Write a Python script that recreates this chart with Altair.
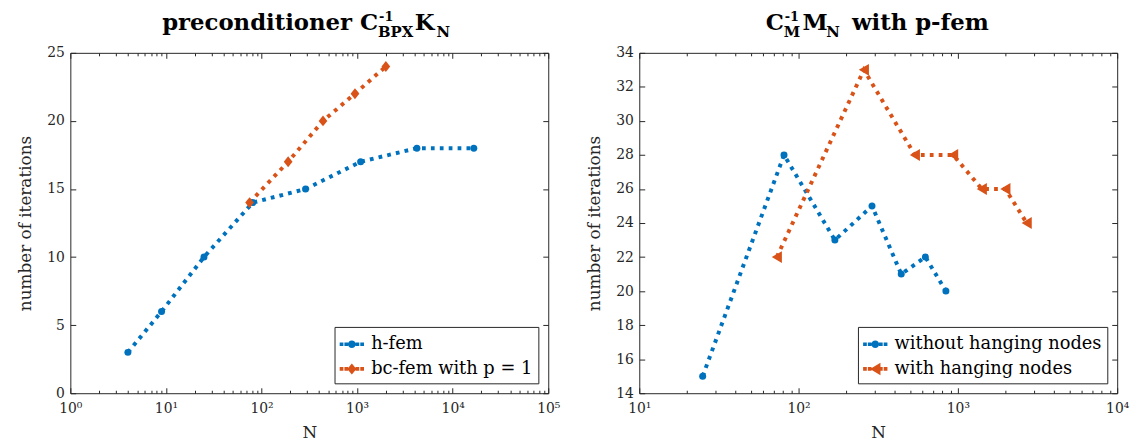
import altair as alt
import pandas as pd

# ---------------- data ----------------
left_series = ["h-fem", "bc-fem with p = 1"]
h_N = [4, 9, 25, 81, 289, 1089, 4225, 16641]
h_it = [3, 6, 10, 14, 15, 17, 18, 18]
bc_N = [75, 190, 440, 950, 2000]
bc_it = [14, 17, 20, 22, 24]

right_series = ["without hanging nodes", "with hanging nodes"]
wo_N = [25, 81, 169, 289, 441, 625, 841]
wo_it = [15, 28, 23, 25, 21, 22, 20]
wh_N = [73, 257, 537, 934, 1413, 1987, 2704]
wh_it = [22, 33, 28, 28, 26, 26, 24]

left_xmajor = [1, 10, 100, 1000, 10000, 100000]
right_xmajor = [10, 100, 1000, 10000]
left_ymajor = [0, 5, 10, 15, 20, 25]
right_ymajor = [14, 16, 18, 20, 22, 24, 26, 28, 30, 32, 34]


def minor_ticks(major):
    return [m * d for d in major[:-1] for m in range(2, 10)]


left_df = pd.DataFrame({
    "N": h_N + bc_N,
    "it": h_it + bc_it,
    "series": [left_series[0]] * len(h_N) + [left_series[1]] * len(bc_N),
})
right_df = pd.DataFrame({
    "N": wo_N + wh_N,
    "it": wo_it + wh_it,
    "series": [right_series[0]] * len(wo_N) + [right_series[1]] * len(wh_N),
})

# ---------------- style ----------------
BLUE = "#0072BD"
ORANGE = "#D95319"
AX = "#262626"
SERIF = "DejaVu Serif"
W, H = 483, 344
MAJ, MIN = 5.5, 3.0

DIAMOND = "M0,-1L0.8,0L0,1L-0.8,0Z"
TRI_LEFT = "M-0.85,0L0.85,-1L0.85,1Z"


def dots():
    s = 0.15
    out = ""
    for cx in (-0.833, -0.45, 0.45, 0.833):
        out += f"M{cx - s:.3f},{-s:.3f}L{cx + s:.3f},{-s:.3f}L{cx + s:.3f},{s:.3f}L{cx - s:.3f},{s:.3f}Z"
    return out


LEG_CIRCLE = dots() + "M0.31,0A0.31,0.31 0 1,1 -0.31,0A0.31,0.31 0 1,1 0.31,0Z"
LEG_DIAMOND = dots() + "M0,-0.45L0.37,0L0,0.45L-0.37,0Z"
LEG_TRI = dots() + "M-0.42,0L0.42,-0.5L0.42,0.5Z"

SUP = "['⁰','¹','²','³','⁴','⁵']"
LABEL_EXPR = "'10' + " + SUP + "[round(log(datum.value)/LN10)]"


def text_piece(txt, x, y, size, align="left"):
    return alt.Chart(alt.Data(values=[{}])).mark_text(
        text=txt, font=SERIF, fontSize=size, fontWeight="bold",
        align=align, baseline="alphabetic", color="black"
    ).encode(x=alt.value(x), y=alt.value(y))


def panel(df, series, shapes, sizes, leg_paths, xdom, xmaj, ydom, ymaj, titles):
    xs = alt.Scale(type="log", domain=xdom, nice=False)
    ys = alt.Scale(domain=ydom, nice=False, zero=False)
    cs = alt.Scale(domain=series, range=[BLUE, ORANGE])
    xmin = minor_ticks(xmaj)

    def X(axis):
        return alt.X("N:Q", scale=xs, axis=axis)

    def Y(axis):
        return alt.Y("it:Q", scale=ys, axis=axis)

    lab_x = alt.Axis(orient="bottom", values=xmaj, ticks=False, tickSize=0, domain=False,
                     labelExpr=LABEL_EXPR, labelFlush=False, labelOverlap=False,
                     labelPadding=8, title="N", titlePadding=10)
    lab_y = alt.Axis(orient="left", values=ymaj, ticks=False, tickSize=0, domain=False,
                     labelPadding=6, title="number of iterations", titlePadding=12)

    def tick_axis(orient, vals, size):
        return alt.Axis(orient=orient, values=vals, ticks=True, tickSize=size, offset=-size,
                        labels=False, domain=False, title=None)

    base = alt.Chart(df)
    inv = dict(opacity=0)
    layers = []
    for i, (s, c) in enumerate(zip(series, [BLUE, ORANGE])):
        layers.append(
            base.transform_filter(alt.datum.series == s).mark_line(
                color=c, strokeWidth=4, strokeDash=[3.8, 5.2], strokeCap="butt"
            ).encode(x=X(lab_x if i == 0 else None), y=Y(lab_y if i == 0 else None))
        )
    layers += [
        base.mark_point(**inv).encode(x=X(tick_axis("bottom", xmaj, MAJ)),
                                      y=Y(tick_axis("left", ymaj, MAJ))),
        base.mark_point(**inv).encode(x=X(tick_axis("top", xmaj, MAJ)),
                                      y=Y(tick_axis("right", ymaj, MAJ))),
        base.mark_point(**inv).encode(x=X(tick_axis("bottom", xmin, MIN)), y=Y(None)),
        base.mark_point(**inv).encode(x=X(tick_axis("top", xmin, MIN)), y=Y(None)),
    ]
    for s, c, shp, sz in zip(series, [BLUE, ORANGE], shapes, sizes):
        layers.append(
            base.transform_filter(alt.datum.series == s).mark_point(
                filled=True, shape=shp, size=sz, color=c, opacity=1
            ).encode(x=X(None), y=Y(None))
        )
    leg_props = dict(title=None, orient="bottom-right", offset=10, fillColor="white",
                     strokeColor=AX, padding=5, labelFont=SERIF, labelFontSize=18,
                     labelColor="black", labelLimit=0, symbolSize=625, symbolStrokeWidth=0,
                     symbolOpacity=1, rowPadding=3, labelOffset=7, cornerRadius=0)
    layers.append(
        base.mark_point(filled=True, opacity=0).encode(
            x=X(None), y=Y(None),
            color=alt.Color("series:N", scale=cs, legend=alt.Legend(**leg_props)),
            shape=alt.Shape("series:N", scale=alt.Scale(domain=series, range=leg_paths),
                            legend=alt.Legend(**leg_props)),
        )
    )
    layers += titles
    return alt.layer(*layers).resolve_axis(x="independent", y="independent").properties(
        width=W, height=H)


BASE_Y, SUP_Y, SUB_Y = -23, -32, -16
left_titles = [
    text_piece("preconditioner C", 311, BASE_Y, 23, "right"),
    text_piece("-1", 312, SUP_Y, 13),
    text_piece("BPX", 311, SUB_Y, 15),
    text_piece("K", 348, BASE_Y, 23),
    text_piece("N", 370, SUB_Y, 15),
]
right_titles = [
    text_piece("C", 146, BASE_Y, 23, "right"),
    text_piece("-1", 147, SUP_Y, 13),
    text_piece("M", 146, SUB_Y, 15),
    text_piece("M", 165, BASE_Y, 23),
    text_piece("N", 189, SUB_Y, 15),
    text_piece("with p-fem", 215, BASE_Y, 23),
]

left = panel(left_df, left_series, ["circle", DIAMOND], [50, 121], [LEG_CIRCLE, LEG_DIAMOND],
             [1, 100000], left_xmajor, [0, 25], left_ymajor, left_titles)
right = panel(right_df, right_series, ["circle", TRI_LEFT], [50, 144], [LEG_CIRCLE, LEG_TRI],
              [10, 10000], right_xmajor, [14, 34], right_ymajor, right_titles)

chart = alt.hconcat(left, right, spacing=92, bounds="flush").resolve_scale(
    color="independent", shape="independent"
).resolve_legend(color="independent", shape="independent").configure(
    padding={"left": 8, "top": 0, "right": 5, "bottom": 0},
    font=SERIF,
    style={"guide-label": {"font": SERIF}, "guide-title": {"font": SERIF}},
).configure_view(stroke=AX, strokeWidth=1).configure_axis(
    labelFont=SERIF, labelFontSize=14, labelColor=AX, titleFont=SERIF, titleFontSize=17,
    titleFontWeight="normal", titleColor=AX, tickColor=AX, tickWidth=1, grid=False
).configure_legend(
    labelFont=SERIF, labelFontSize=18, labelLimit=0, labelColor="black"
)

chart.save("out.html", embed_options={"renderer": "svg", "actions": False})
